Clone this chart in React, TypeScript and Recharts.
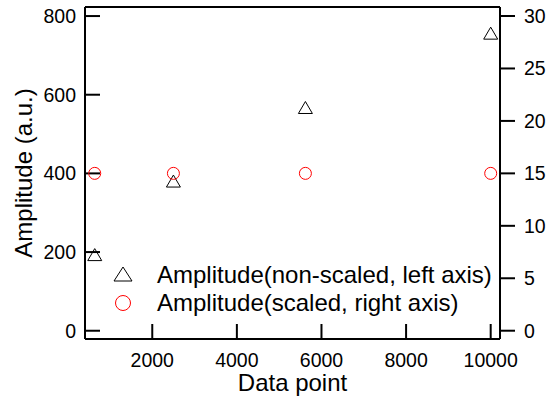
import { ScatterChart, Scatter, XAxis, YAxis, Legend } from 'recharts'

const dataPoints = [640, 2500, 5620, 10000]
const ampNonScaled = [191, 378, 565, 754]
const ampScaled = [15, 15, 15, 15]
const xTicks = [2000, 4000, 6000, 8000, 10000]
const leftTicks = [0, 200, 400, 600, 800]
const rightTicks = [0, 5, 10, 15, 20, 25, 30]
const seriesNames = ['Amplitude(non-scaled, left axis)', 'Amplitude(scaled, right axis)']

const nonScaled = dataPoints.map((x, i) => ({ x, y: ampNonScaled[i] }))
const scaled = dataPoints.map((x, i) => ({ x, y: ampScaled[i] }))

const FONT = '"Liberation Sans", Arial, sans-serif'
const axisLine = { stroke: '#000', strokeWidth: 2 }
const tickStyle = { fill: '#000', fontSize: 19.5, fontFamily: FONT }

const Triangle = ({ cx, cy }: any) => (
  <polygon
    points={`${cx},${cy - 7} ${cx - 7},${cy + 5} ${cx + 7},${cy + 5}`}
    fill="none"
    stroke="#000"
    strokeWidth={1}
  />
)

const Circle = ({ cx, cy }: any) => (
  <circle cx={cx} cy={cy} r={6} fill="none" stroke="#ff0000" strokeWidth={1} />
)

function LegendBox() {
  const row = { display: 'flex', alignItems: 'center', height: 28 }
  const text = { marginLeft: 23, fontSize: 24, fontFamily: FONT, color: '#000', whiteSpace: 'nowrap' as const }
  return (
    <div>
      <div style={row}>
        <svg width={22} height={22}>
          <polygon points="11,3 2,17 20,17" fill="none" stroke="#000" strokeWidth={1} />
        </svg>
        <span style={text}>{seriesNames[0]}</span>
      </div>
      <div style={row}>
        <svg width={22} height={22}>
          <circle cx={11} cy={11} r={7.5} fill="none" stroke="#ff0000" strokeWidth={1} />
        </svg>
        <span style={text}>{seriesNames[1]}</span>
      </div>
    </div>
  )
}

export default function App() {
  return (
    <div style={{ position: 'absolute', left: 0, top: 0, background: '#fff' }}>
      <ScatterChart width={550} height={400} margin={{ top: 6, right: 0, bottom: 0, left: 0 }}>
        <XAxis
          xAxisId="bottom"
          type="number"
          dataKey="x"
          domain={[410, 10220]}
          ticks={xTicks}
          allowDataOverflow
          height={61}
          axisLine={axisLine}
          tickLine={axisLine}
          tickSize={-15}
          tickMargin={29}
          tick={tickStyle}
          label={({ viewBox }: any) => (
            <text
              x={viewBox.x + viewBox.width / 2}
              y={391}
              textAnchor="middle"
              fontSize={24}
              fontFamily={FONT}
              fill="#000"
            >
              Data point
            </text>
          )}
        />
        <XAxis
          xAxisId="top"
          orientation="top"
          type="number"
          dataKey="x"
          domain={[410, 10220]}
          ticks={xTicks}
          allowDataOverflow
          height={1}
          axisLine={axisLine}
          tickLine={axisLine}
          tickSize={-15}
          tick={false}
        />
        <YAxis
          yAxisId="left"
          type="number"
          dataKey="y"
          domain={[-21, 823]}
          ticks={leftTicks}
          allowDataOverflow
          width={85}
          axisLine={axisLine}
          tickLine={axisLine}
          tickSize={-15}
          tickMargin={24}
          tick={tickStyle}
          label={({ viewBox }: any) => {
            const x = 32
            const y = viewBox.y + viewBox.height / 2
            return (
              <text
                x={x}
                y={y}
                transform={`rotate(-90, ${x}, ${y})`}
                textAnchor="middle"
                fontSize={24}
                fontFamily={FONT}
                fill="#000"
              >
                Amplitude (a.u.)
              </text>
            )
          }}
        />
        <YAxis
          yAxisId="right"
          orientation="right"
          type="number"
          dataKey="y"
          domain={[-0.79, 30.86]}
          ticks={rightTicks}
          allowDataOverflow
          width={50}
          axisLine={axisLine}
          tickLine={axisLine}
          tickSize={15}
          tickMargin={9}
          tick={tickStyle}
        />
        <Scatter
          name={seriesNames[0]}
          data={nonScaled}
          xAxisId="bottom"
          yAxisId="left"
          shape={Triangle}
          isAnimationActive={false}
        />
        <Scatter
          name={seriesNames[1]}
          data={scaled}
          xAxisId="top"
          yAxisId="right"
          shape={Circle}
          isAnimationActive={false}
        />
        <Legend
          layout="vertical"
          align="center"
          verticalAlign="middle"
          content={() => <LegendBox />}
          wrapperStyle={{ left: 112, top: 261, width: 420, height: 56 }}
        />
      </ScatterChart>
    </div>
  )
}
